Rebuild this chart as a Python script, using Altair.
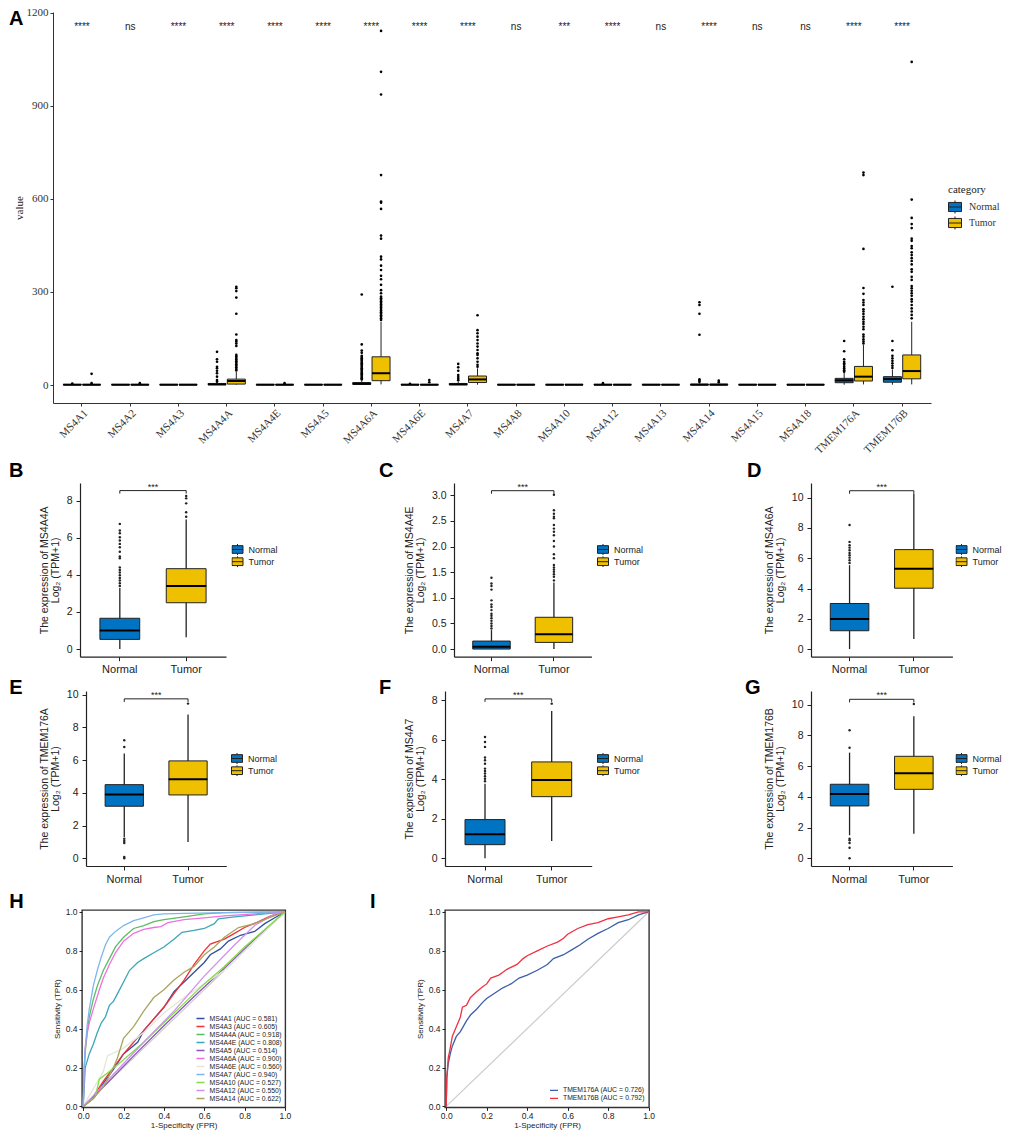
import altair as alt
import pandas as pd

BLUE = "#0073C2"
YELLOW = "#EFC000"
INK = "#222222"
SANS = "Liberation Sans"
SERIF = "Liberation Serif"
groups = ["Normal", "Tumor"]
KEY = "M-1,-0.7H1V0.7H-1Z M-1,0H1 M0,-0.7V-1 M0,0.7V1"

# ---------- panel A ----------
genes = ["MS4A1", "MS4A2", "MS4A3", "MS4A4A", "MS4A4E", "MS4A5", "MS4A6A", "MS4A6E", "MS4A7", "MS4A8",
         "MS4A10", "MS4A12", "MS4A13", "MS4A14", "MS4A15", "MS4A18", "TMEM176A", "TMEM176B"]
signif = ["****", "ns", "****", "****", "****", "****", "****", "****", "****", "ns",
          "***", "****", "ns", "****", "ns", "ns", "****", "****"]
# lo, q1, median, q3, hi
A_normal = [(0, 0, 1, 2, 3), (0, 0, 1, 2, 3), (0, 0, 1, 2, 3), (0, 1, 2, 5, 10), (0, 0, 1, 2, 3), (0, 0, 1, 2, 3),
            (0, 2, 4, 8, 14), (0, 0, 1, 2, 3), (0, 1, 2, 5, 10), (0, 0, 1, 2, 3), (0, 0, 1, 2, 3), (0, 0, 1, 2, 3),
            (0, 0, 1, 2, 3), (0, 0, 1, 3, 5), (0, 0, 1, 2, 3), (0, 0, 1, 2, 3), (1, 7.5, 15, 21.5, 40), (1, 9, 19, 27, 50)]
A_tumor = [(0, 0, 1, 2, 3), (0, 0, 1, 2, 3), (0, 0, 1, 2, 3), (1, 3, 13, 19, 42), (0, 0, 1, 2, 3), (0, 0, 1, 2, 3),
           (2, 14, 38, 91, 204), (0, 0, 1, 2, 3), (1, 8, 18, 29, 54), (0, 0, 1, 2, 3), (0, 0, 1, 2, 3), (0, 0, 1, 2, 3),
           (0, 0, 1, 2, 3), (0, 0, 1, 3, 5), (0, 0, 1, 2, 3), (0, 0, 1, 2, 3), (2, 13, 27, 60, 129), (2, 20, 45, 97, 204)]
A_outliers = {
    ("MS4A1", "Normal"): [5], ("MS4A1", "Tumor"): [36, 6],
    ("MS4A2", "Tumor"): [6], ("MS4A4E", "Tumor"): [6],
    ("MS4A4A", "Normal"): [107, 83, 75, 59, 54, 46, 38, 27, 16, 11],
    ("MS4A4A", "Tumor"): [317, 312, 303, 282, 230, 163, 145, 140, 134, 126, 97, 92, 87, 82, 77, 72, 67, 62, 57, 52, 47],
    ("MS4A6A", "Normal"): [292, 131, 111, 104, 94, 90, 86, 82, 78, 74, 70, 66, 62, 58, 54, 50, 46, 42, 38, 34, 30, 26, 22, 18],
    ("MS4A6A", "Tumor"): [1142, 1010, 937, 677, 592, 588, 568, 482, 472, 414, 405, 385, 371, 352, 341, 323, 306, 296,
                          285, 280, 275, 270, 265, 260, 255, 250, 245, 240, 235, 230, 225, 220, 215, 210],
    ("MS4A6E", "Tumor"): [16, 9], ("MS4A6E", "Normal"): [4],
    ("MS4A7", "Normal"): [68, 57, 46, 32, 26, 20, 15],
    ("MS4A7", "Tumor"): [225, 177, 167, 156, 145, 134, 124, 113, 102, 97, 86, 75, 65, 59],
    ("MS4A12", "Normal"): [6],
    ("MS4A14", "Normal"): [267, 258, 230, 162, 18, 14, 10],
    ("MS4A14", "Tumor"): [14, 9],
    ("TMEM176A", "Normal"): [142, 109, 83, 75, 70, 65, 59, 54, 48, 43],
    ("TMEM176A", "Tumor"): [685, 677, 439, 313, 294, 274, 266, 258, 244, 237, 229, 220, 212, 204, 197, 188, 180, 163, 156, 147, 140, 134],
    ("TMEM176B", "Normal"): [317, 142, 112, 94, 86, 78, 70, 62, 55],
    ("TMEM176B", "Tumor"): [1042, 598, 539, 519, 506, 472, 465, 448, 441, 428, 419, 409, 400, 389, 373, 365, 349, 339,
                            319, 312, 304, 296, 288, 277, 269, 258, 247, 237, 226, 215],
}

# ---------- panels B-G: lo, q1, median, q3, hi ----------
BG = {
    "MS4A4A": dict(normal=(0, 0.52, 1.0, 1.66, 3.3), tumor=(0.63, 2.5, 3.4, 4.34, 7.0),
                   out_n=[6.76, 6.4, 6.25, 6.04, 5.86, 5.68, 5.5, 5.26, 5.0, 4.9, 4.41, 4.27, 4.13, 3.98, 3.84, 3.7, 3.55, 3.4],
                   out_t=[8.27, 8.14, 7.87, 7.39, 7.15], bracket=(8.4, 8.56)),
    "MS4A4E": dict(normal=(0, 0.0, 0.045, 0.156, 0.37), tumor=(0, 0.13, 0.29, 0.62, 1.3),
                   out_n=[1.39, 1.28, 1.23, 1.16, 0.95, 0.87, 0.82, 0.76, 0.69, 0.65, 0.6, 0.55, 0.5, 0.45, 0.4],
                   out_t=[3.01, 2.71, 2.64, 2.58, 2.55, 2.42, 2.35, 2.29, 2.22, 2.11, 2.0, 1.85, 1.77, 1.64, 1.59, 1.55, 1.51, 1.46, 1.41, 1.34],
                   bracket=(3.03, 3.09)),
    "MS4A6A": dict(normal=(0, 1.21, 1.98, 3.01, 5.54), tumor=(0.66, 4.02, 5.3, 6.57, 10.26),
                   out_n=[8.2, 7.08, 6.86, 6.7, 6.53, 6.35, 6.2, 6.04, 5.87, 5.69], out_t=[], bracket=(10.26, 10.46)),
    "TMEM176A": dict(normal=(1.3, 3.18, 3.89, 4.5, 6.4), tumor=(1.0, 3.87, 4.83, 5.95, 8.78),
                     out_n=[7.21, 6.8, 1.2, 1.06, 0.94, 0.08, 0.0], out_t=[9.45], bracket=(9.55, 9.74)),
    "MS4A7": dict(normal=(0, 0.69, 1.22, 1.96, 3.78), tumor=(0.88, 3.12, 3.97, 4.88, 7.46),
                  out_n=[6.14, 5.89, 5.64, 5.1, 4.96, 4.79, 4.54, 4.42, 4.29, 4.15, 4.03, 3.9], out_t=[7.83], bracket=(7.92, 8.07)),
    "TMEM176B": dict(normal=(1.5, 3.41, 4.19, 4.82, 6.88), tumor=(1.6, 4.49, 5.53, 6.64, 9.24),
                     out_n=[8.33, 7.2, 1.28, 1.17, 1.0, 0.69, 0.0], out_t=[10.04], bracket=(10.15, 10.35)),
}

# ---------- panels H, I ----------
roc_names = ["MS4A1 (AUC = 0.581)", "MS4A3 (AUC = 0.605)", "MS4A4A (AUC = 0.918)", "MS4A4E (AUC = 0.808)",
             "MS4A5 (AUC = 0.514)", "MS4A6A (AUC = 0.900)", "MS4A6E (AUC = 0.560)", "MS4A7 (AUC = 0.940)",
             "MS4A10 (AUC = 0.527)", "MS4A12 (AUC = 0.550)", "MS4A14 (AUC = 0.622)"]
roc_colors = ["#2F4F9F", "#F0303A", "#58BE62", "#3AA6B8", "#8E55B8", "#F070E0", "#E6E6D6", "#7EB6EE", "#80E044", "#CF90F0", "#A9A55E"]
roc_curves = [
    [(0, 0), (.05, .04), (.1, .12), (.15, .19), (.2, .27), (.27, .33), (.3, .39), (.35, .45), (.4, .51), (.45, .59), (.5, .64), (.55, .69), (.6, .74), (.63, .78), (.68, .81), (.72, .85), (.78, .88), (.85, .9), (.9, .94), (.95, .97), (1, 1)],
    [(0, 0), (.05, .05), (.1, .13), (.15, .2), (.2, .27), (.25, .33), (.3, .39), (.35, .45), (.4, .51), (.45, .58), (.5, .65), (.55, .73), (.6, .8), (.63, .835), (.7, .86), (.75, .89), (.8, .92), (.87, .95), (.93, .98), (1, 1)],
    [(0, 0), (.005, .2), (.01, .28), (.02, .38), (.03, .46), (.05, .55), (.07, .62), (.1, .7), (.13, .76), (.16, .82), (.2, .87), (.25, .915), (.3, .93), (.35, .95), (.4, .96), (.5, .975), (.6, .99), (.7, .997), (1, 1)],
    [(0, 0), (.005, .1), (.01, .2), (.03, .27), (.05, .32), (.07, .38), (.09, .43), (.11, .46), (.13, .52), (.15, .54), (.17, .58), (.2, .64), (.23, .7), (.27, .74), (.3, .76), (.35, .79), (.4, .82), (.45, .86), (.49, .895), (.55, .905), (.6, .915), (.65, .94), (.67, .965), (.75, .975), (.85, .985), (1, 1)],
    [(0, 0), (.1, .1), (.25, .26), (.4, .415), (.55, .565), (.7, .71), (.85, .86), (1, 1)],
    [(0, 0), (.005, .18), (.01, .3), (.02, .38), (.03, .43), (.05, .5), (.08, .6), (.1, .66), (.13, .73), (.16, .79), (.2, .85), (.25, .89), (.3, .91), (.35, .92), (.385, .925), (.42, .945), (.5, .96), (.6, .97), (.7, .98), (.85, .99), (1, 1)],
    [(0, 0), (.05, .09), (.1, .18), (.12, .26), (.2, .3), (.3, .38), (.4, .48), (.5, .56), (.6, .63), (.7, .7), (.8, .8), (.9, .9), (1, 1)],
    [(0, 0), (.005, .2), (.01, .3), (.02, .42), (.03, .5), (.05, .62), (.07, .7), (.09, .77), (.11, .83), (.13, .87), (.16, .9), (.2, .93), (.25, .955), (.3, .97), (.35, .985), (.4, .99), (.5, .993), (.7, .996), (1, 1)],
    [(0, 0), (.06, .05), (.08, .14), (.13, .18), (.2, .24), (.3, .33), (.4, .43), (.5, .53), (.6, .63), (.7, .72), (.8, .82), (.9, .91), (1, 1)],
    [(0, 0), (.1, .11), (.3, .33), (.45, .49), (.6, .67), (.75, .83), (.85, .93), (.95, .99), (1, 1)],
    [(0, 0), (.05, .04), (.1, .1), (.15, .2), (.17, .25), (.2, .35), (.25, .41), (.3, .49), (.35, .56), (.4, .6), (.45, .65), (.5, .69), (.55, .72), (.6, .78), (.65, .82), (.7, .87), (.77, .92), (.85, .94), (.92, .97), (1, 1)],
]
roc2_names = ["TMEM176A (AUC = 0.726)", "TMEM176B (AUC = 0.792)"]
roc2_colors = ["#3B5FA8", "#F0303F"]
roc2_curves = [
    [(0, 0), (.003, .15), (.01, .22), (.02, .27), (.03, .31), (.05, .36), (.07, .385), (.1, .44), (.12, .47), (.15, .5), (.18, .535), (.2, .555), (.25, .59), (.28, .61), (.32, .63), (.36, .66), (.4, .675), (.45, .7), (.5, .73), (.53, .76), (.58, .78), (.62, .805), (.66, .83), (.7, .86), (.75, .89), (.8, .915), (.85, .945), (.9, .96), (.95, .985), (1, 1)],
    [(0, 0), (.003, .15), (.01, .25), (.02, .3), (.03, .36), (.05, .41), (.07, .46), (.08, .51), (.1, .52), (.12, .56), (.15, .59), (.18, .615), (.2, .63), (.22, .66), (.26, .675), (.28, .69), (.3, .705), (.35, .73), (.38, .76), (.4, .775), (.45, .8), (.5, .825), (.55, .845), (.58, .865), (.6, .885), (.65, .915), (.7, .935), (.75, .945), (.8, .965), (.85, .975), (.9, .985), (.95, 1), (1, 1)],
]
diagonal = [(0, 0), (1, 1)]


def letter(text, dx, dy):
    return alt.Chart(pd.DataFrame({"t": [text]})).mark_text(
        font=SANS, fontWeight="bold", fontSize=20, align="left", baseline="top", color="#000000"
    ).encode(text="t:N", x=alt.value(dx), y=alt.value(dy))


def spacer(w=1, h=1):
    return alt.Chart(pd.DataFrame({"a": [0]})).mark_text(text=" ", opacity=0).encode(
        x=alt.value(0), y=alt.value(0)).properties(width=w, height=h)


def panel_a():
    rows, outs = [], []
    for i, g in enumerate(genes):
        for grp, stat in (("Normal", A_normal[i]), ("Tumor", A_tumor[i])):
            rows.append(dict(gene=g, group=grp, lo=stat[0], q1=stat[1], med=stat[2], q3=stat[3], hi=stat[4]))
            for v in A_outliers.get((g, grp), []):
                outs.append(dict(gene=g, group=grp, v=v))
    df, dfo = pd.DataFrame(rows), pd.DataFrame(outs)
    xscale = alt.Scale(domain=genes, paddingInner=0.2, paddingOuter=0.2, round=False)
    x = alt.X("gene:N", sort=genes, title=None, scale=xscale,
              axis=alt.Axis(labelAngle=-45, labelFontSize=11, labelFont=SERIF, labelColor="#333333", tickSize=3,
                            labelAlign="right", labelBaseline="top", labelPadding=1, domainColor="#333333", tickColor="#333333", domainWidth=1))
    xo = alt.XOffset("group:N", scale=alt.Scale(domain=groups, paddingInner=0, paddingOuter=0, round=False))
    yscale = alt.Scale(domain=[-58, 1203], nice=False, zero=False)
    yaxis = alt.Axis(values=[0, 300, 600, 900, 1200], format="d", labelFontSize=11, labelFont=SERIF, labelColor="#333333", tickSize=3,
                     titleFont=SERIF, titleFontSize=11, titleFontWeight="normal", titleColor="#222222", titlePadding=2,
                     domainColor="#333333", tickColor="#333333", grid=False)
    Y = lambda f: alt.Y(f, title="value", scale=yscale, axis=yaxis)
    whisk = alt.Chart(df).mark_rule(color=INK, strokeWidth=1).encode(x=x, xOffset=xo, y=Y("lo:Q"), y2="hi:Q")
    box = alt.Chart(df).mark_bar(size=18, stroke=INK, strokeWidth=1).encode(
        x=x, xOffset=xo, y=Y("q1:Q"), y2="q3:Q",
        color=alt.Color("group:N", scale=alt.Scale(domain=groups, range=[BLUE, YELLOW]),
                        legend=alt.Legend(title="category", orient="none", legendX=895, legendY=172, symbolType=KEY, symbolSize=169,
                                          symbolStrokeColor=INK, symbolStrokeWidth=1, symbolOpacity=1, clipHeight=14,
                                          titleFont=SERIF, titleFontSize=11, titleFontWeight="normal", titleColor="#222222",
                                          labelFont=SERIF, labelFontSize=10, labelColor="#333333", rowPadding=2, labelOffset=7, padding=0)))
    med = alt.Chart(df).mark_tick(size=18, thickness=2, color="#000000", opacity=1).encode(x=x, xOffset=xo, y=Y("med:Q"))
    pts = alt.Chart(dfo).mark_circle(size=7, color="#000000", opacity=1).encode(x=x, xOffset=xo, y=Y("v:Q"))
    sig = pd.DataFrame({"gene": genes, "s": signif, "v": [1156] * len(genes)})
    txt = alt.Chart(sig).mark_text(font=SANS, fontSize=10, color="#222222", baseline="middle").encode(x=x, y=Y("v:Q"), text="s:N")
    return alt.layer(whisk, box, med, pts, txt, letter("A", -44, -3)).properties(width=878, height=391)


def box_panel(gene, width, height, ydom, ticks, bw, let, let_dx, let_dy, leg_x, leg_y, fmt="d"):
    d = BG[gene]
    rows = []
    for grp, s in (("Normal", d["normal"]), ("Tumor", d["tumor"])):
        rows.append(dict(group=grp, lo=s[0], q1=s[1], med=s[2], q3=s[3], hi=s[4]))
    df = pd.DataFrame(rows)
    dfo = pd.DataFrame([dict(group="Normal", v=v) for v in d["out_n"]] + [dict(group="Tumor", v=v) for v in d["out_t"]])
    tip, top = d["bracket"]
    dfb = pd.DataFrame({"group": ["Normal", "Normal", "Tumor", "Tumor"], "v": [tip, top, top, tip], "o": [0, 1, 2, 3]})
    xs = alt.Scale(domain=groups, paddingInner=0.4, paddingOuter=0.3, round=False)
    x = alt.X("group:N", scale=xs, title=None, sort=groups,
              axis=alt.Axis(labelAngle=0, labelFont=SANS, labelFontSize=11, labelColor="#222222", tickSize=4, labelPadding=3,
                            domainColor="#222222", tickColor="#222222", domainWidth=1.2))
    ys = alt.Scale(domain=ydom, nice=False, zero=False)
    yaxis = alt.Axis(values=ticks, format=fmt, labelFont=SANS, labelFontSize=10.5, labelColor="#222222", tickSize=4, labelPadding=4, grid=False,
                     titleFont=SANS, titleFontSize=10.5, titleFontWeight="normal", titleColor="#222222", titleLineHeight=10.5, titlePadding=6,
                     domainColor="#222222", tickColor="#222222", domainWidth=1.2)
    Y = lambda f: alt.Y(f, scale=ys, title=[f"The expression of {gene}", "Log₂ (TPM+1)"], axis=yaxis)
    whisk = alt.Chart(df).mark_rule(color=INK, strokeWidth=1.3).encode(x=x, y=Y("lo:Q"), y2="hi:Q")
    box = alt.Chart(df).mark_bar(stroke=INK, strokeWidth=1).encode(
        x=x, y=Y("q1:Q"), y2="q3:Q",
        color=alt.Color("group:N", scale=alt.Scale(domain=groups, range=[BLUE, YELLOW]),
                        legend=alt.Legend(title=None, orient="none", legendX=leg_x, legendY=leg_y, symbolType=KEY, symbolSize=121,
                                          symbolStrokeColor=INK, symbolStrokeWidth=1, symbolOpacity=1, clipHeight=11,
                                          labelFont=SANS, labelFontSize=9, labelColor="#222222", rowPadding=1.2, labelOffset=5, padding=0)))
    med = alt.Chart(df).mark_tick(size=bw, thickness=2, color="#000000", opacity=1).encode(x=x, y=Y("med:Q"))
    layers = [whisk, box, med]
    if len(dfo):
        layers.append(alt.Chart(dfo).mark_circle(size=6, color="#222222", opacity=1).encode(x=x, y=Y("v:Q")))
    layers.append(alt.Chart(dfb).mark_line(color=INK, strokeWidth=1).encode(x=x, y=Y("v:Q"), order="o:Q"))
    layers.append(alt.Chart(pd.DataFrame({"t": ["***"], "v": [top]})).mark_text(font=SANS, fontSize=9, color="#222222", baseline="bottom", dy=1, dx=0).encode(
        text="t:N", x=alt.value(width / 2), y=Y("v:Q")))
    layers.append(letter(let, let_dx, let_dy))
    return alt.layer(*layers).properties(width=width, height=height)


def roc_panel(names, colors, curves, width, let, let_dx, let_dy, leg_x, leg_y):
    rows = []
    for n, c in zip(names, curves):
        for k, (fx, ty) in enumerate(c):
            rows.append(dict(name=n, fpr=fx, tpr=ty, o=k))
    df = pd.DataFrame(rows)
    xs = alt.Scale(domain=[-0.006, 1.002], nice=False, zero=False)
    ys = alt.Scale(domain=[-0.005, 1.01], nice=False, zero=False)
    ax = dict(labelFont=SANS, labelFontSize=8.5, labelColor="#222222", tickSize=3, grid=False, domain=False,
              titleFont=SANS, titleFontSize=8, titleFontWeight="normal", titleColor="#222222", tickColor="#222222",
              values=[0, 0.2, 0.4, 0.6, 0.8, 1.0], format=".1f", labelFlush=False)
    x = alt.X("fpr:Q", scale=xs, title="1-Specificity (FPR)", axis=alt.Axis(titlePadding=2, labelPadding=1, **ax))
    y = alt.Y("tpr:Q", scale=ys, title="Sensitivity (TPR)", axis=alt.Axis(titlePadding=4, **ax))
    diag = alt.Chart(pd.DataFrame(diagonal, columns=["fpr", "tpr"])).mark_line(color="#CCCCCC", strokeWidth=1.2).encode(x=x, y=y)
    lines = alt.Chart(df).mark_line(strokeWidth=1.3, interpolate="linear").encode(
        x=x, y=y, order="o:Q",
        color=alt.Color("name:N", scale=alt.Scale(domain=names, range=colors), sort=names,
                        legend=alt.Legend(title=None, orient="none", legendX=leg_x, legendY=leg_y, symbolType="stroke", symbolSize=64,
                                          symbolStrokeWidth=1.3, labelFont=SANS, labelFontSize=6.8, labelColor="#222222", clipHeight=8,
                                          rowPadding=0, labelOffset=4, padding=0, labelLimit=120)))
    return alt.layer(diag, lines, letter(let, let_dx, let_dy)).properties(
        width=width, height=197.4, view=alt.ViewBackground(stroke="#333333", strokeWidth=1.4))


B = box_panel("MS4A4A", 146, 173.7, [-0.416, 8.97], [0, 2, 4, 6, 8], 40, "B", -71, -22, 151.5, 61)
C = box_panel("MS4A4E", 137.4, 173.7, [-0.149, 3.24], [0, 0.5, 1, 1.5, 2, 2.5, 3], 37.6, "C", -75, -22, 143, 61, ".1f")
D = box_panel("MS4A6A", 141.4, 173.7, [-0.505, 10.97], [0, 2, 4, 6, 8, 10], 39, "D", -64, -22, 144.5, 61)
E = box_panel("TMEM176A", 140.3, 175, [-0.47, 10.22], [0, 2, 4, 6, 8, 10], 38.7, "E", -76.7, -13, 145, 62)
F = box_panel("MS4A7", 146.7, 175, [-0.39, 8.47], [0, 2, 4, 6, 8], 40, "F", -66, -13, 152, 62)
G = box_panel("TMEM176B", 141.4, 175, [-0.5, 10.89], [0, 2, 4, 6, 8, 10], 39, "G", -66, -13, 144.5, 62)
H = roc_panel(roc_names, roc_colors, roc_curves, 203.3, "H", -72.7, -18, 113.5, 104.5)
I = roc_panel(roc2_names, roc2_colors, roc2_curves, 204, "I", -75, -18, 104, 176.4)

indep = dict(color="independent")
row1 = alt.hconcat(spacer(27), B, spacer(227.3), C, spacer(218.6), D, spacing=0, bounds="flush").resolve_scale(**indep).resolve_legend(**indep)
row2 = alt.hconcat(spacer(32.7), E, spacer(218), F, spacer(218.6), G, spacing=0, bounds="flush").resolve_scale(**indep).resolve_legend(**indep)
row3 = alt.hconcat(spacer(28.7), H, spacer(158.3), I, spacing=0, bounds="flush").resolve_scale(**indep).resolve_legend(**indep)

chart = alt.vconcat(panel_a(), spacer(1, 9), row1, spacer(1, 7), row2, spacer(1, 11), row3, spacing=-5).resolve_scale(**indep).resolve_legend(**indep).properties(
    padding={"left": 0, "top": -2, "right": -1, "bottom": 1}, background="white"
).configure_view(stroke=None)

chart.save("out.html", embed_options={"renderer": "svg", "actions": False})
